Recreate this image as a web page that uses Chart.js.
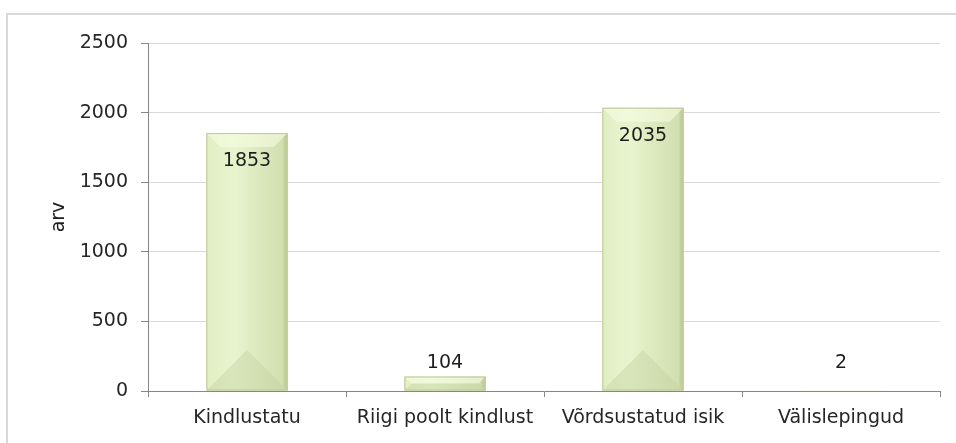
<!DOCTYPE html>
<html>
<head>
<meta charset="utf-8">
<script src="https://cdn.jsdelivr.net/npm/chart.js@4.4.0/dist/chart.umd.js"></script>
<style>
  body { margin: 0; background: #fff; overflow: hidden; }
  .frame { position: absolute; left: 6px; top: 13px; width: 1100px; height: 600px; border: 2px solid #d9d9d9; }
  #chart { position: absolute; left: 0; top: 0; }
</style>
</head>
<body>
<div class="frame"></div>
<canvas id="chart" width="956" height="443"></canvas>
<script>
// andmed
const categories = ['Kindlustatu', 'Riigi poolt kindlust', 'Võrdsustatud isik', 'Välislepingud']
const values = [1853, 104, 2035, 2]
const yTicks = [0, 500, 1000, 1500, 2000, 2500]

const FONT = "'DejaVu Sans', sans-serif"

// Excel-laadne kaldservaga tulp
const bevelPlugin = {
  id: 'bevel',
  afterDatasetsDraw(chart) {
    const ctx = chart.ctx
    const meta = chart.getDatasetMeta(0)
    meta.data.forEach(bar => {
      const w = bar.width
      const l = bar.x - w / 2, r = bar.x + w / 2
      const t = bar.y, b = bar.base
      const h = b - t
      if (h < 1) return
      ctx.save()
      // põhipind
      const g = ctx.createLinearGradient(l, 0, r, 0)
      g.addColorStop(0, '#e2efc5')
      g.addColorStop(0.35, '#e7f4ce')
      g.addColorStop(1, '#cfdcab')
      ctx.fillStyle = g
      ctx.fillRect(l, t, w, h)
      const bt = Math.min(14, h / 2, w / 2)
      const bb = Math.min(40, h / 2, w / 2)
      // ülemine serv
      ctx.fillStyle = 'rgba(250, 253, 232, 0.55)'
      ctx.beginPath()
      ctx.moveTo(l, t); ctx.lineTo(r, t); ctx.lineTo(r - bt, t + bt); ctx.lineTo(l + bt, t + bt); ctx.closePath()
      ctx.fill()
      // alumine serv
      ctx.fillStyle = 'rgba(195, 208, 158, 0.4)'
      ctx.beginPath()
      ctx.moveTo(l, b); ctx.lineTo(r, b); ctx.lineTo(r - bb, b - bb); ctx.lineTo(l + bb, b - bb); ctx.closePath()
      ctx.fill()
      // parem serv
      ctx.fillStyle = 'rgba(160, 175, 120, 0.3)'
      ctx.beginPath()
      ctx.moveTo(r, t); ctx.lineTo(r, b); ctx.lineTo(r - 4, b - 4); ctx.lineTo(r - 4, t + 4); ctx.closePath()
      ctx.fill()
      ctx.strokeStyle = '#bcc79a'
      ctx.lineWidth = 1
      ctx.strokeRect(l + 0.5, t + 0.5, w - 1, h - 1)
      ctx.restore()
    })
  }
}

// väärtuste sildid
const labelPlugin = {
  id: 'valueLabels',
  afterDatasetsDraw(chart) {
    const ctx = chart.ctx
    const meta = chart.getDatasetMeta(0)
    ctx.save()
    ctx.font = '19px ' + FONT
    ctx.fillStyle = '#1e1e1e'
    ctx.textAlign = 'center'
    ctx.textBaseline = 'middle'
    meta.data.forEach((bar, i) => {
      const h = bar.base - bar.y
      const y = h > 60 ? bar.y + 28.5 : Math.min(bar.y - 13, bar.base - 27)
      ctx.fillText(String(values[i]), bar.x, y)
    })
    ctx.restore()
  }
}

new Chart(document.getElementById('chart'), {
  type: 'bar',
  data: {
    labels: categories,
    datasets: [{
      data: values,
      backgroundColor: '#dfecc0',
      borderWidth: 0,
      categoryPercentage: 1,
      barPercentage: 0.41
    }]
  },
  options: {
    responsive: false,
    animation: false,
    layout: { padding: { top: 43, right: 16, left: 0, bottom: 0 } },
    plugins: { legend: { display: false }, tooltip: { enabled: false } },
    scales: {
      x: {
        grid: { drawOnChartArea: false, tickLength: 6, tickColor: '#868686', offset: true },
        border: { color: '#868686' },
        ticks: { font: { family: FONT, size: 19 }, color: '#262626', padding: 10, maxRotation: 0, autoSkip: false },
        afterFit(scale) { scale.height = 52 }
      },
      y: {
        min: 0,
        max: 2500,
        afterBuildTicks(scale) { scale.ticks = yTicks.map(v => ({ value: v })) },
        grid: { color: '#d9d9d9', tickLength: 7, tickColor: '#868686' },
        border: { color: '#868686' },
        ticks: { font: { family: FONT, size: 19 }, color: '#262626', padding: 13, callback: v => String(v) },
        title: { display: true, text: 'arv', font: { family: FONT, size: 19 }, color: '#1e1e1e', padding: { top: 48 } },
        afterFit(scale) { scale.width = 148 }
      }
    }
  },
  plugins: [bevelPlugin, labelPlugin]
})
</script>
</body>
</html>
